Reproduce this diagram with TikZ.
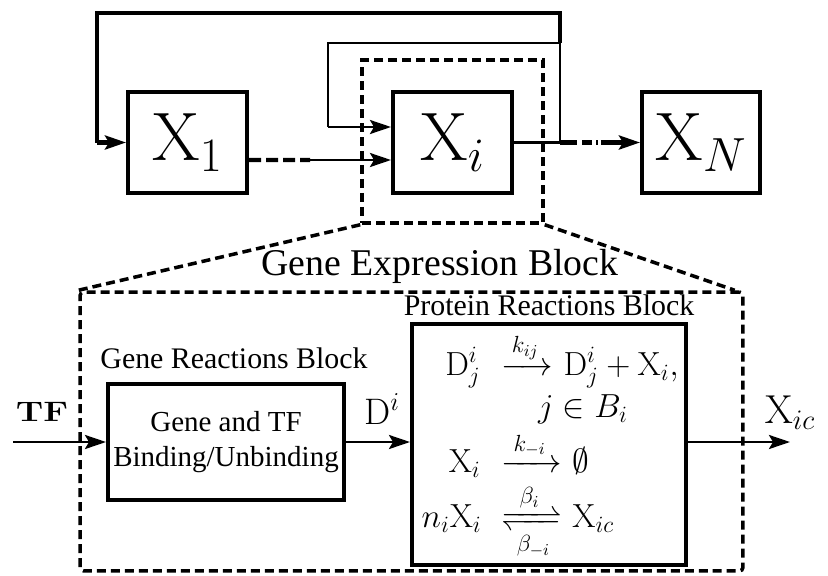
\RequirePackage{fix-cm}
\documentclass[tikz,border=0pt]{standalone}
\usepackage{mathtools}
\usepackage[no-math]{fontspec}
\setmainfont{Liberation Serif}
\usepackage{graphicx}
\usetikzlibrary{arrows.meta,calc}
\def\fsz#1{\fontsize{#1}{1.22\dimexpr#1pt\relax}\selectfont}
\def\lab#1#2{\hbox to #1{\hss$\scriptstyle #2$\hss}}
\tikzset{
	blk/.style={draw, line width=2.3pt, inner sep=0pt},
	dbox/.style={draw, line width=2pt, dash pattern=on 0.18cm off 0.1cm},
	thk/.style={line width=2.3pt},
	thn/.style={line width=1.5pt},
	arr/.style={-{Stealth[length=0.42cm, width=0.28cm, inset=0.08cm]}},
	lbl/.style={inner sep=0pt},
	rxn/.style={inner sep=0pt, font=\fsz{19}},
}

\begin{document}
\begin{tikzpicture}[x=0.02cm, y=-0.02cm]
		%%%%% START %%%%%
		\useasboundingbox (0,0) rectangle (828,575);
		
		% species boxes
		\node[blk, minimum width=2.38cm, minimum height=2.02cm, font=\fsz{39}] (x1) at (187.5,142.5) {$\mathrm{X}_1$};
		\node[blk, minimum width=2.38cm, minimum height=2.02cm, font=\fsz{39}] (xi) at (452.5,142.5) {$\mathrm{X}_i$};
		\node[blk, minimum width=2.36cm, minimum height=2.02cm, font=\fsz{39}] (xn) at (701,142.5) {$\mathrm{X}_N$};
		
		% feedback loops
		\coordinate (jn) at (560,142.5);
		\coordinate (fi) at (560,43);
		\coordinate (fo) at (560,13);
		\coordinate (li) at (328,127);
		\coordinate (lo) at (97,142.5);
		\coordinate (mid) at (310,160);
		\coordinate (dd) at (602,142.5);
		\draw[thn] (xi.east) -- (jn) -- (fi) -| (li);
		\draw[thn, arr] (li) -- (li -| xi.west);
		\draw[thk] (fi) -- (fo) -| (lo);
		\draw[thk, arr] (lo) -- (x1.west);
		
		% chain
		\draw[thk, dash pattern=on 0.24cm off 0.1cm] ($(x1.east)+(0,17.5)$) -- (mid);
		\draw[thn, arr] (mid) -- (mid -| xi.west);
		\draw[thk, dash pattern=on 0.34cm off 0.1cm on 0.2cm off 0.08cm on 0.04cm off 0.06cm] (jn) -- (dd);
		\draw[thk, arr] (dd) -- (xn.west);
		
		% zoom into X_i
		\node[dbox, minimum width=3.62cm, minimum height=3.26cm] (zm) at (452.5,141.5) {};
		\node[dbox, rounded corners=2pt, minimum width=13.26cm, minimum height=5.58cm] (geb) at (411.5,431.5) {};
		\draw[dbox] (zm.south west) -- (geb.north west);
		\draw[dbox] (zm.south east) -- ($(geb.north east)+(-10,0)$);
		\node[lbl, anchor=base, font=\fsz{21.5}] (gebl) at (440,275) {Gene Expression Block};
		
		% gene reactions
		\node[lbl, anchor=base, font=\fsz{17}] (grbl) at (234,368) {Gene Reactions Block};
		\node[blk, minimum width=4.72cm, minimum height=2.32cm, align=center, font=\fsz{16.5}] (gr) at (226,442) {Gene and TF\\Binding/Unbinding};
		
		% protein reactions
		\node[lbl, anchor=base, font=\fsz{17}] (prbl) at (549,315) {Protein Reactions Block};
		\node[blk, minimum width=5.48cm, minimum height=4.82cm] (pr) at (549,444.5) {};
		\node[rxn, anchor=base east] (r1a) at (481,375) {$\mathrm{D}^i_j$};
		\node[rxn, anchor=base west] (r1b) at (501,375) {$\xrightarrow{\lab{19pt}{k_{ij}}}$};
		\node[rxn, anchor=base west] (r1c) at ($(r1b.base east)+(10,0)$) {$\mathrm{D}^i_j+\mathrm{X}_i,$};
		\node[rxn, anchor=base] (r2) at (583,417) {$j\in B_i$};
		\node[rxn, anchor=base east] (r3a) at (481,472) {$\mathrm{X}_i$};
		\node[rxn, anchor=base west] (r3b) at (501,472) {$\xrightarrow{\lab{24pt}{k_{-i}}}$};
		\node[rxn, anchor=base west] (r3c) at ($(r3b.base east)+(10,0)$) {$\emptyset$};
		\node[rxn, anchor=base east] (r4a) at (482,527) {$n_i\mathrm{X}_i$};
		\node[rxn, anchor=base west] (r4b) at (501,527) {$\xrightleftharpoons[\lab{24pt}{\beta_{-i}}]{\lab{24pt}{\beta_i}}$};
		\node[rxn, anchor=base west] (r4c) at ($(r4b.base east)+(10,0)$) {$\mathrm{X}_{ic}$};
		
		% inputs and outputs
		\coordinate (tfin) at (13,442);
		\coordinate (out) at (790,442);
		\node[lbl, anchor=base, font=\fsz{16}] (tf) at (42,421) {\scalebox{1.25}[1]{$\mathbf{TF}$}};
		\node[lbl, anchor=base, font=\fsz{21}] (di) at (382,424) {$\mathrm{D}^i$};
		\node[lbl, anchor=base, font=\fsz{23}] (xic) at (790,423) {$\mathrm{X}_{ic}$};
		\draw[thn, arr] (tfin) -- (gr.west);
		\draw[thn, arr] (gr.east) -- (gr.east -| pr.west);
		\draw[thn, arr] (pr.east |- out) -- (out);
		%%%%% END %%%%%
\end{tikzpicture}
\end{document}
